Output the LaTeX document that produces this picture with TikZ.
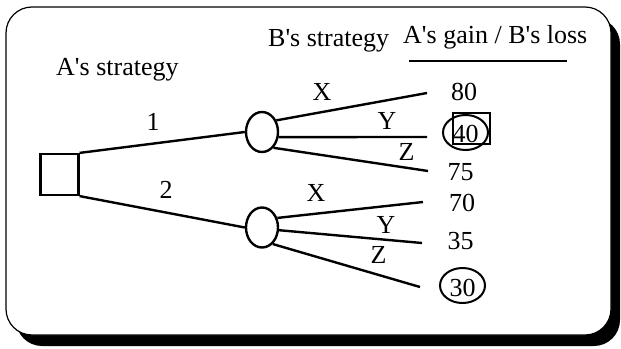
\documentclass[tikz,border=0pt]{standalone}
\usepackage{fontspec}
\setmainfont{Liberation Serif}
\usetikzlibrary{shapes.geometric}
\newcommand{\apos}{\textquotesingle}
\begin{document}
\begin{tikzpicture}[x=1pt,y=-1pt,
  every node/.style={font=\fontsize{26}{30}\selectfont, inner sep=0pt},
  branch/.style={line width=2.4pt},
  chance/.style={ellipse, draw, line width=2.4pt, minimum width=32pt, minimum height=40pt},
  decision/.style={rectangle, draw, line width=2.2pt, minimum width=38pt, minimum height=41pt},
  hiell/.style={ellipse, draw, line width=2pt, minimum width=45pt, minimum height=35pt},
  hisq/.style={rectangle, draw, line width=1.6pt, minimum width=37pt, minimum height=31pt}
]
\useasboundingbox (0,0) rectangle (621,348);
% frame with shadow
\fill[black, rounded corners=26pt] (16,18) rectangle (620,346);
\draw[line width=1.2pt, fill=white, rounded corners=26pt] (6,7) rectangle (611,335);

% headings
\node[anchor=base west] (ha) at (56,75) {A\apos s strategy};
\node[anchor=base west] (hb) at (268,46) {B\apos s strategy};
\node[anchor=base west] (hg) at (403,43) {A\apos s gain / B\apos s loss};
\coordinate (ul1) at (409,61);
\coordinate (ul2) at (567,61);
\draw[line width=2.4pt] (ul1) -- (ul2);

% nodes
\node[decision] (sq) at (59.5,174.5) {};
\node[chance] (c1) at (262,132) {};
\node[chance] (c2) at (262,227.5) {};

\draw[branch] (sq.north east) -- (c1.west);
\draw[branch] (sq.south east) -- (c2.west);
\node (l1) at (153,122) {1};
\node (l2) at (166,190) {2};

% leaf endpoints
\coordinate (e1x) at (427,93);
\coordinate (e1y) at (427,137);
\coordinate (e1z) at (428,171);
\coordinate (e2x) at (423,202);
\coordinate (e2y) at (422,243);
\coordinate (e2z) at (420,287);

\draw[branch] (c1.39) -- (e1x);
\draw[branch] (c1.-17) -- (e1y);
\draw[branch] (c1.-54) -- (e1z);
\draw[branch] (c2.32) -- (e2x);
\draw[branch] (c2.-9) -- (e2y);
\draw[branch] (c2.-57) -- (e2z);

% branch labels
\node (x1) at (322,91.5) {X};
\node (y1) at (387,121) {Y};
\node (z1) at (406.5,151.5) {Z};
\node (x2) at (316,192.5) {X};
\node (y2) at (386,225) {Y};
\node (z2) at (378.5,255) {Z};

% payoffs
\node (p80) at (464,91.5) {80};
\node (p40) at (465.5,134) {40};
\node (p75) at (460.5,172.5) {75};
\node (p70) at (462,202.5) {70};
\node (p35) at (460.5,241.5) {35};
\node (p30) at (462.5,287.5) {30};

% highlights
\node[hiell] (h40) at (465.5,132.5) {};
\node[hisq] (s40) at (471.5,128.5) {};
\node[hiell] (h30) at (462.5,285.5) {};
\end{tikzpicture}
\end{document}
